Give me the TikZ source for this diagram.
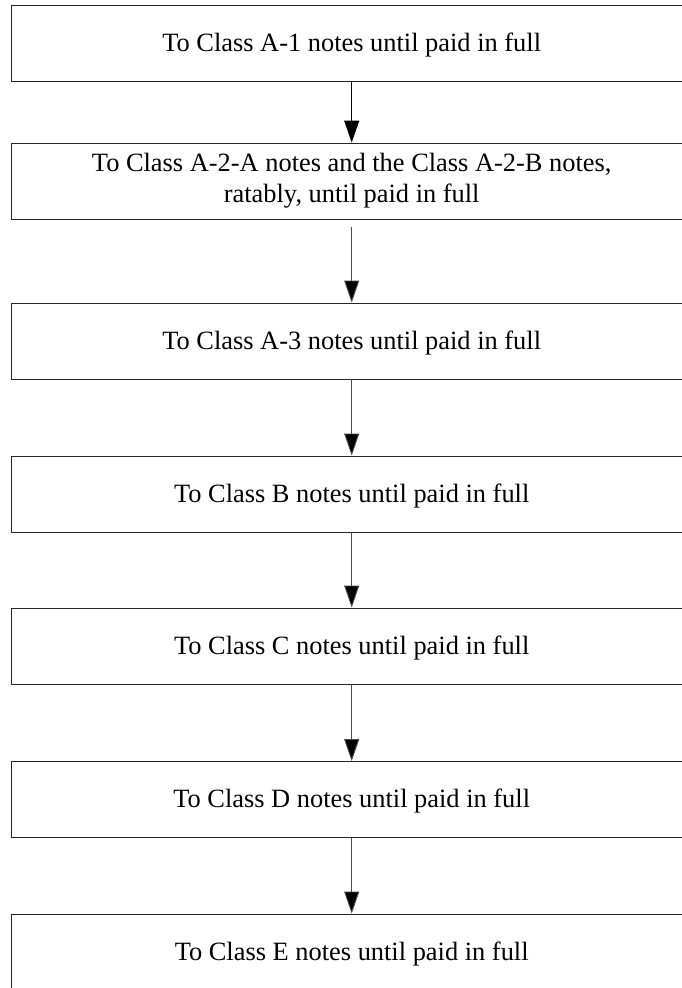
\documentclass[tikz,border=0pt]{standalone}
\usepackage{fontspec}
\setmainfont{Liberation Serif}
\usetikzlibrary{arrows.meta}
\begin{document}
\begin{tikzpicture}[x=1pt,y=-1pt,
  stagebox/.style={draw=black!85,line width=0.9pt,rectangle,minimum width=680pt,minimum height=76pt,inner sep=0pt,align=center,font=\fontsize{26.4}{31}\selectfont},
  oneline/.style={stagebox,text height=19pt,text depth=3pt},
  flow/.style={draw=black!70,line width=0.9pt,-{Triangle[length=22pt,width=15pt,fill=black]}}]
\useasboundingbox (0,0) rectangle (682,988);
\clip (0,0) rectangle (682,988);
\node[oneline] (b1) at (351.7,43) {To Class A-1 notes until paid in full};
\node[stagebox] (b2) at (351.7,181) {To Class A-2-A notes and the Class A-2-B notes,\\ratably, until paid in full};
\node[oneline] (b3) at (351.7,341) {To Class A-3 notes until paid in full};
\node[oneline] (b4) at (351.7,494) {To Class B notes until paid in full};
\node[oneline] (b5) at (351.7,646) {To Class C notes until paid in full};
\node[oneline] (b6) at (351.7,799.5) {To Class D notes until paid in full};
\node[oneline] (b7) at (351.7,952) {To Class E notes until paid in full};
\draw[flow,draw=black] (b1) -- (b2);
\draw[flow,shorten <=8pt] (b2) -- (b3);
\draw[flow] (b3) -- (b4);
\draw[flow] (b4) -- (b5);
\draw[flow] (b5) -- (b6);
\draw[flow] (b6) -- (b7);
\end{tikzpicture}
\end{document}
